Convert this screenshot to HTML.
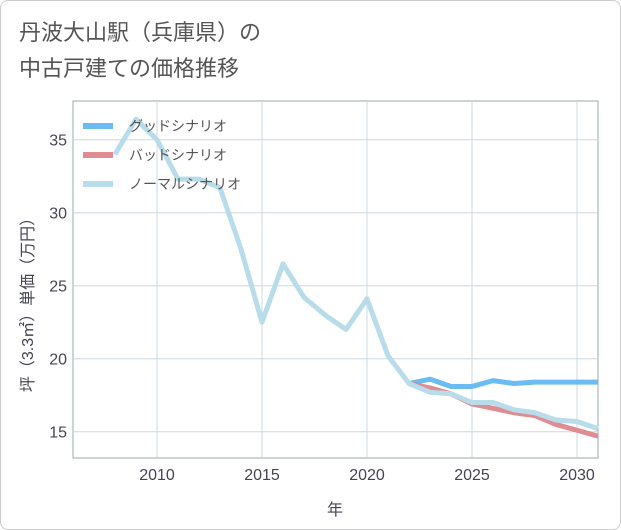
<!DOCTYPE html>
<html><head><meta charset="utf-8"><style>
body{margin:0;background:#fff;}
.wrap{position:relative;width:619px;height:528px;border:1px solid #ccc;border-radius:8px;background:#fff;overflow:hidden;font-family:"Liberation Sans","Noto Sans CJK JP",sans-serif;}
h1{position:absolute;left:18px;top:14px;margin:0;font-weight:normal;font-size:22px;line-height:36px;color:#555;}
</style></head><body>
<div class="wrap">
<h1>丹波大山駅（兵庫県）の<br>中古戸建ての価格推移</h1>
<svg id="c" width="621" height="530" style="position:absolute;left:0;top:0"></svg>
</div>
<script>
const years=[2008,2009,2010,2011,2012,2013,2014,2015,2016,2017,2018,2019,2020,2021,2022,2023,2024,2025,2026,2027,2028,2029,2030,2031];
const normal=[34.0,36.4,35.0,32.3,32.3,31.7,27.5,22.5,26.5,24.2,23.0,22.0,24.1,20.2,18.3,17.7,17.6,17.0,17.0,16.5,16.3,15.8,15.7,15.2];
const futYears=[2022,2023,2024,2025,2026,2027,2028,2029,2030,2031];
const good=[18.3,18.6,18.1,18.1,18.5,18.3,18.4,18.4,18.4,18.4];
const bad=[18.3,18.0,17.6,16.9,16.6,16.3,16.1,15.5,15.1,14.7];
const xTicks=[2010,2015,2020,2025,2030];
const yTicks=[15,20,25,30,35];
const X0=72,X1=597,Y0=100,Y1=457;
const x=v=>X0+(v-2006)*(X1-X0)/25;
const y=v=>Y1-(v-13.2)*(Y1-Y0)/(37.65-13.2);
const svg=document.getElementById('c');
const NS='http://www.w3.org/2000/svg';
function mk(t,a,p){const e=document.createElementNS(NS,t);for(const k in a)e.setAttribute(k,a[k]);(p||svg).appendChild(e);return e;}
const bg=mk('rect',{x:X0,y:Y0,width:X1-X0,height:Y1-Y0,fill:'#fff',stroke:'#9aa',"stroke-width":1});


xTicks.forEach(t=>{
 const l=mk('line',{x1:x(t),x2:x(t),y1:Y0,y2:Y1,stroke:'#ccd8e0'});
 
 
 const tx=mk('text',{x:x(t),y:Y1+22,"text-anchor":"middle","font-size":16,fill:'#445'});tx.textContent=t;
 
 
});
yTicks.forEach(t=>{
 const l=mk('line',{x1:X0,x2:X1,y1:y(t),y2:y(t),stroke:'#ccd8e0'});
 
 
 const tx=mk('text',{x:X0-6,y:y(t)+6,"text-anchor":"end","font-size":16,fill:'#445'});tx.textContent=t;
 
 
});
function line(xs,vs,col,name){
 const p=mk('polyline',{points:xs.map((v,i)=>x(v)+','+y(vs[i])).join(' '),fill:'none',stroke:col,"stroke-width":5,"stroke-linejoin":"round"});
 
 
}
line(futYears,good,'#6bbcf2','good-scenario-line');
line(futYears,bad,'#e08c93','bad-scenario-line');
line(years,normal,'#b8dcea','normal-scenario-line');
const leg=[['グッドシナリオ','#6bbcf2'],['バッドシナリオ','#e08c93'],['ノーマルシナリオ','#b8dcea']];
leg.forEach((d,i)=>{
 const yy=125+i*29;
 const r=mk('line',{x1:82,x2:112,y1:yy,y2:yy,stroke:d[1],"stroke-width":6});
 
 
 const t=mk('text',{x:128,y:yy+5,"font-size":14,fill:'#555'});t.textContent=d[0];
 
 
});
const xt=mk('text',{x:334,y:514,"text-anchor":"middle","font-size":16,fill:'#445'});xt.textContent='年';


const yt=mk('text',{x:0,y:0,"text-anchor":"middle","font-size":16,fill:'#445',transform:'translate(32,300) rotate(-90)'});yt.textContent='坪（3.3㎡）単価（万円）';


</script>
</body></html>
